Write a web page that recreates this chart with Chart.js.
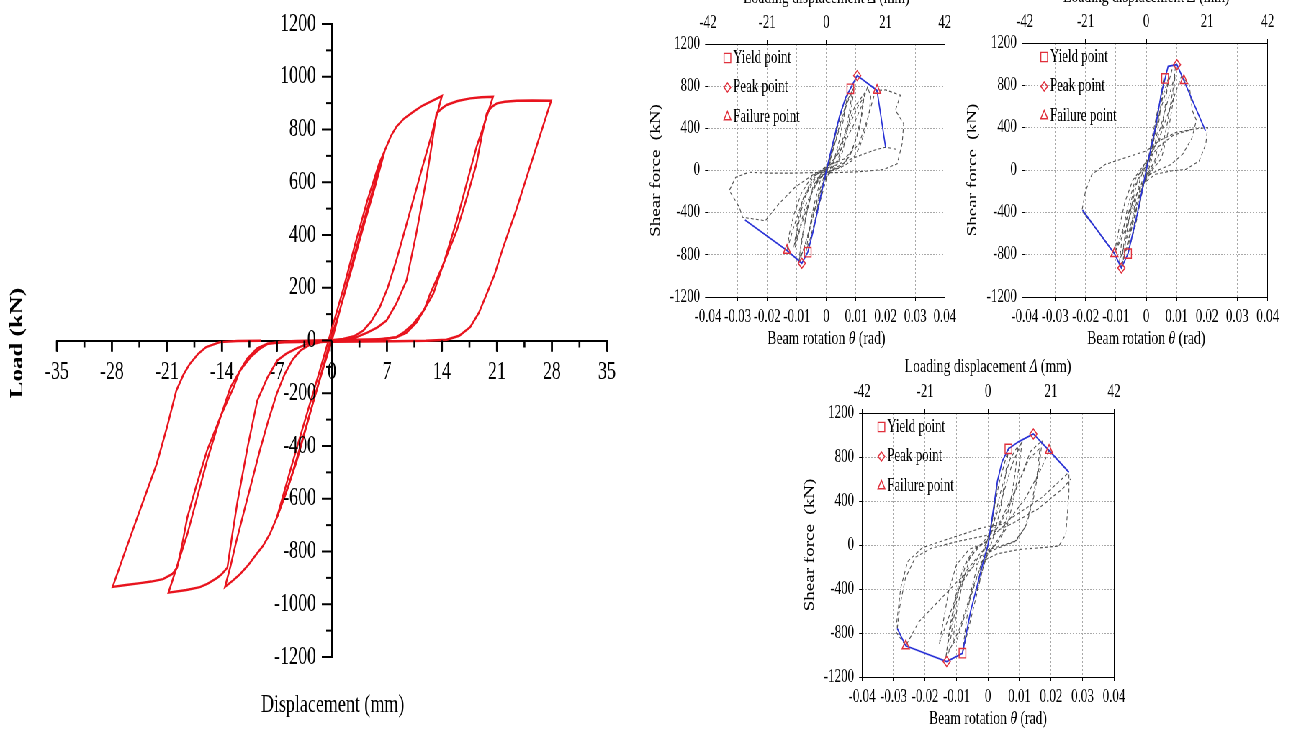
<!DOCTYPE html>
<html>
<head>
<meta charset="utf-8">
<script src="https://cdn.jsdelivr.net/npm/chart.js@4.4.1/dist/chart.umd.min.js"></script>
<style>
  html, body { margin: 0; padding: 0; background: #fff; overflow: hidden; }
  /* the whole sheet is drawn wide and squeezed horizontally, giving the narrow serif look */
  #sheet { position: absolute; left: 0; top: 0; width: 1790px; height: 732px;
           transform: scaleX(0.72); transform-origin: 0 0; }
  #sheet canvas { position: absolute; }
</style>
</head>
<body>
<div id="sheet">
  <canvas id="loadDisp" width="889" height="732" style="left:0;top:0;width:889px;height:732px"></canvas>
  <canvas id="sp1" width="444" height="350" style="left:889px;top:0;width:444px;height:350px"></canvas>
  <canvas id="sp2" width="457" height="350" style="left:1333px;top:0;width:457px;height:350px"></canvas>
  <canvas id="sp3" width="487" height="382" style="left:1083px;top:350px;width:487px;height:382px"></canvas>
</div>
<script>
// ---------- left plot: load vs displacement (mm, kN) ----------
const dispTicks = [-35, -28, -21, -14, -7, 0, 7, 14, 21, 28, 35];
const loadTicks = [-1200, -1000, -800, -600, -400, -200, 0, 200, 400, 600, 800, 1000, 1200];

const loop7 = [[0,0],[1.5,170],[3,340],[4.5,500],[6,650],[6.75,722],[5.5,585],[4,430],[2.5,270],[1,115],[0,20],
  [-1.5,-140],[-3,-300],[-4.5,-460],[-6,-590],[-7,-671],[-5.8,-545],[-4.5,-410],[-3,-260],[-1.5,-110],[0,45],
  [1.5,200],[3,370],[4.5,530],[6,670],[6.75,722]];
const loop14 = [[6.75,722],[7.5,775],[8.2,810],[9.2,842],[10.35,867],[11.5,890],[12.5,905],[14,927],
  [13.3,850],[12.5,760],[11.4,645],[10.35,532],[9.3,420],[8.2,304],[7.1,200],[6.1,127],[5,72],[4,38],[2.8,16],[1.44,6],[0,1],
  [-1,-95],[-2.5,-245],[-4,-400],[-5.5,-550],[-7,-671],[-7.9,-734],[-8.8,-780],[-9.6,-810],[-10.6,-850],[-11.7,-886],[-12.6,-910],[-13.6,-934],
  [-12.9,-855],[-12.2,-765],[-11.2,-650],[-10.2,-535],[-9.2,-420],[-8.1,-304],[-7,-200],[-6,-127],[-5,-72],[-4,-38],[-2.8,-16],[-1.44,-6],[0,-2]];
const loop21 = [[0,-2],[1.5,3],[3.14,13],[4.5,30],[5.8,50],[6.95,76],[8.2,140],[9.5,228],[10.7,400],[12,608],[12.7,740],[13.3,861],
  [14,880],[14.6,893],[16,908],[17.6,918],[19,922],[20.5,924],
  [19.5,830],[18.4,734],[17.1,590],[15.9,456],[14.4,310],[12.9,177],[11.6,110],[10.35,63],[9.2,32],[8.2,13],[6.5,5],[4.5,1],[2,-1],[0,-2],
  [-1.5,-4],[-3.14,-13],[-4.5,-30],[-5.8,-50],[-6.95,-76],[-8.2,-140],[-9.5,-228],[-10.7,-400],[-12,-608],[-12.7,-740],[-13.3,-861],
  [-14,-885],[-14.6,-900],[-15.8,-922],[-16.8,-935],[-18.5,-946],[-20.8,-956],
  [-19.7,-855],[-18.4,-734],[-17.1,-590],[-15.9,-456],[-14.4,-310],[-12.9,-177],[-11.6,-110],[-10.35,-63],[-9.2,-32],[-8.2,-13],
  [-6.5,-5],[-4.5,-2],[-2,0],[0,1],[3,3],[6,5]];
const loop28 = [[6,5],[8.2,12],[9.5,30],[10.8,70],[11.8,120],[12.5,177],[14.2,290],[15.9,418],[17.2,545],[18.4,671],[19.1,780],[19.7,861],
  [20.3,885],[21,899],[22,905],[23.5,909],[25.5,910],[27.9,909],
  [26.4,770],[24.9,630],[23.4,490],[21.8,354],[20.7,250],[19.7,177],[18.7,105],[17.6,51],[16.2,18],[14.6,3],[12,-1],[8,-3],[4,-4],[0,-5],[-4,-6],[-6,-7],
  [-8.2,-12],[-9.5,-30],[-10.8,-70],[-11.8,-120],[-12.5,-177],[-14.2,-290],[-15.9,-418],[-17.2,-545],[-18.4,-671],[-19.1,-780],[-19.7,-861],
  [-20.3,-885],[-21.5,-905],[-23,-914],[-24.4,-920],[-26.2,-927],[-27.9,-934],
  [-26.5,-815],[-25,-690],[-23.6,-575],[-22.3,-468],[-21,-330],[-19.8,-190],[-18.9,-130],[-18.1,-89],[-17,-50],[-16,-25],[-14.25,-6],[-12,-2],[-9,-1]];

// ---------- right plots: shear force vs beam rotation (rad, kN) ----------
const rotationTicks = [-0.04, -0.03, -0.02, -0.01, 0, 0.01, 0.02, 0.03, 0.04];
const loadingDispTicks = [-42, -21, 0, 21, 42];
const shearTicks = [-1200, -800, -400, 0, 400, 800, 1200];

const sp1Hysteresis = [[0,0],[0.002,230],[0.0035,420],[0.0025,250],[0.001,60],[-0.001,-120],[-0.0035,-420],[-0.0025,-260],[-0.001,-70],[0.001,100],
  [0.003,330],[0.0055,600],[0.0072,720],[0.006,520],[0.0045,300],[0.0025,90],[0,-80],[-0.0025,-330],[-0.0055,-650],[-0.0068,-760],[-0.0058,-560],[-0.0042,-330],[-0.002,-90],[0.001,80],
  [0.004,360],[0.007,640],[0.0094,794],[0.0085,600],[0.0072,400],[0.0055,180],[0.003,30],[0,-60],[-0.003,-280],[-0.006,-600],[-0.0094,-889],[-0.0085,-680],[-0.007,-440],[-0.005,-220],[-0.002,-40],[0.002,60],
  [0.006,330],[0.0095,600],[0.0128,730],[0.0122,560],[0.011,380],[0.0088,200],[0.006,70],[0.002,10],[-0.002,-60],[-0.005,-220],[-0.0085,-520],[-0.0106,-730],[-0.0098,-560],[-0.0083,-360],[-0.006,-160],[-0.003,-30],[0.001,40],
  [0.005,200],[0.009,420],[0.012,620],[0.0139,794],[0.015,698],[0.0145,560],[0.0133,400],[0.0112,220],[0.0085,90],[0.005,30],[0,-20],[-0.004,-90],[-0.008,-280],[-0.0113,-560],[-0.0133,-758],[-0.0125,-600],[-0.011,-420],[-0.0085,-220],[-0.005,-60],[0,40],
  [0.006,110],[0.011,250],[0.014,500],[0.016,700],[0.0171,760],[0.02,765],[0.025,714],[0.0233,571],[0.0261,444],[0.0256,254],[0.0239,64],[0.0194,10],[0.012,-10],[0.004,-20],[-0.004,-20],[-0.012,-25],[-0.02,-25],
  [-0.0261,-16],[-0.0306,-63],[-0.0328,-190],[-0.0294,-349],[-0.0283,-444],[-0.0206,-476],[-0.0161,-318],[-0.0106,-159],[-0.004,-30],[0.004,60],[0.012,150],[0.017,200],[0.02,220],[0.024,200]];
const sp1Repeat = [[0.001,60],[0.004,380],[0.0068,650],[0.0088,760],[0.0078,560],[0.0062,330],[0.004,110],[0.001,-20],[-0.002,-160],[-0.005,-480],
  [-0.0078,-760],[-0.009,-830],[-0.008,-620],[-0.0065,-380],[-0.0045,-150],[-0.0015,-10],[0.003,120],[0.007,380],[0.0105,600],[0.0125,690],
  [0.0118,520],[0.0102,320],[0.008,140],[0.005,40],[0.001,-10],[-0.003,-90],[-0.007,-330],[-0.0095,-600],[-0.0108,-700],[-0.0098,-500],[-0.0078,-260],[-0.0045,-60],[0,20]];
const sp1Skeleton = [[-0.0275,-470],[-0.0204,-615],[-0.0133,-758],[-0.0083,-880],[-0.0063,-775],[-0.0045,-580],[-0.0025,-320],[0,0],
  [0.0022,260],[0.0045,520],[0.0065,690],[0.0081,775],[0.0104,900],[0.0171,760],[0.02,220]];
const sp1Yield = [[0.0081,775],[-0.0063,-775]];
const sp1Peak = [[0.0104,900],[-0.0083,-880]];
const sp1Failure = [[0.0171,760],[-0.0133,-758]];

const sp2Hysteresis = [[0,0],[0.002,320],[0.004,600],[0.003,400],[0.0015,130],[-0.001,-150],[-0.003,-430],[-0.0045,-620],[-0.0035,-420],[-0.0018,-150],[0.001,130],
  [0.0035,480],[0.0058,875],[0.005,650],[0.0038,380],[0.002,120],[-0.001,-160],[-0.0035,-520],[-0.0062,-800],[-0.0052,-580],[-0.0038,-330],[-0.002,-80],[0.001,120],
  [0.004,500],[0.0069,780],[0.0085,950],[0.0097,1001],[0.0088,760],[0.0072,480],[0.0052,200],[0.002,20],[-0.001,-120],[-0.004,-450],[-0.0068,-760],[-0.0082,-925],[-0.0074,-700],[-0.006,-430],[-0.004,-170],[-0.001,30],
  [0.004,280],[0.008,600],[0.0115,880],[0.0141,812],[0.0152,559],[0.0165,470],[0.015,300],[0.012,150],[0.008,50],[0.004,0],[0,-60],[-0.003,-220],[-0.0065,-540],[-0.0105,-790],[-0.009,-560],[-0.007,-300],[-0.0045,-100],[-0.001,40],
  [0.004,220],[0.009,330],[0.0152,385],[0.0202,401],[0.0196,243],[0.0174,85],[0.013,6],[0.008,-10],[0.003,-40],[-0.002,-150],[-0.006,-420],[-0.0105,-790],[-0.0155,-590],[-0.0212,-388],
  [-0.02,-199],[-0.0179,-41],[-0.0134,54],[-0.0068,117],[0,180],[0.0042,275],[0.0097,354],[0.0152,385]];
const sp2Repeat = [[0.001,80],[0.0035,420],[0.0055,700],[0.0072,860],[0.0064,640],[0.005,360],[0.0028,90],[0,-60],[-0.003,-330],[-0.0055,-640],
  [-0.0075,-850],[-0.0066,-620],[-0.005,-360],[-0.003,-110],[0,40],[0.004,330],[0.0075,700],[0.0095,900],[0.0088,640],[0.0072,360],
  [0.005,110],[0.002,0],[-0.002,-180],[-0.0055,-560],[-0.0088,-860],[-0.0078,-600],[-0.006,-330],[-0.0035,-80],[0,50]];
const sp2Skeleton = [[-0.021,-380],[-0.0105,-790],[-0.0082,-925],[-0.006,-790],[-0.003,-420],[0,0],[0.003,400],[0.005,730],
  [0.0062,865],[0.0072,980],[0.0101,995],[0.0124,845],[0.0195,370]];
const sp2Yield = [[0.0062,865],[-0.006,-790]];
const sp2Peak = [[0.0101,995],[-0.0082,-925]];
const sp2Failure = [[0.0124,845],[-0.0105,-790]];

const sp3Hysteresis = [[0,0],[0.0015,270],[0.003,560],[0.002,330],[0.0005,60],[-0.0012,-170],[-0.0035,-420],[-0.0025,-240],[-0.001,-40],[0.001,170],
  [0.0035,560],[0.0065,874],[0.0055,620],[0.004,330],[0.0015,50],[-0.0015,-200],[-0.005,-620],[-0.0081,-984],[-0.007,-720],[-0.0055,-430],[-0.003,-150],[0,60],
  [0.004,380],[0.0075,720],[0.0109,950],[0.0098,700],[0.0082,420],[0.006,160],[0.003,20],[-0.001,-100],[-0.005,-400],[-0.009,-760],[-0.0124,-969],[-0.0112,-720],[-0.0094,-420],[-0.007,-170],[-0.003,-10],[0.001,60],
  [0.006,300],[0.01,580],[0.0135,850],[0.0172,950],[0.0162,700],[0.0145,430],[0.0122,180],[0.009,40],[0.004,-10],[-0.002,-60],[-0.007,-240],[-0.0105,-520],[-0.0134,-1030],[-0.0122,-760],[-0.0102,-460],[-0.0078,-200],[-0.0045,-40],[0,40],
  [0.006,200],[0.012,430],[0.017,700],[0.0194,859],[0.0257,661],[0.0257,463],[0.0252,280],[0.0247,97],[0.0225,-9],[0.0172,-24],[0.01,-40],[0.003,-80],[-0.004,-180],[-0.01,-340],[-0.016,-520],[-0.022,-700],[-0.0261,-917],
  [-0.0293,-786],[-0.0277,-390],[-0.0255,-150],[-0.0208,-24],[-0.0145,37],[-0.0081,97],[-0.0018,158],[0.0045,189],[0.0109,311],[0.0172,433],[0.0257,661]];
const sp3Repeat = [[0.001,100],[0.004,480],[0.007,780],[0.0095,900],[0.0086,640],[0.007,370],[0.0048,120],[0.002,0],[-0.002,-160],[-0.006,-520],
  [-0.0098,-860],[-0.0112,-900],[-0.0102,-640],[-0.0082,-360],[-0.0058,-120],[-0.002,10],[0.004,220],[0.009,520],[0.013,780],[0.0165,880],
  [0.0156,640],[0.014,400],[0.0118,160],[0.0085,30],[0.003,-30],[-0.003,-110],[-0.009,-380],[-0.013,-700],[-0.0155,-900],[-0.0142,-700],
  [-0.0125,-420],[-0.01,-180],[-0.006,-40],[0,30]];
const sp3Sweep = [[-0.0288,-760],[-0.028,-560],[-0.0262,-300],[-0.023,-110],[-0.018,-30],[-0.01,30],[0,90],[0.008,200],[0.016,330],[0.024,520],[0.0262,600]];
const sp3Skeleton = [[-0.0288,-760],[-0.0261,-917],[-0.0131,-1060],[-0.0081,-984],[-0.0055,-600],[-0.0035,-380],[-0.001,-100],[0,0],
  [0.0015,280],[0.003,580],[0.0045,760],[0.0065,874],[0.0098,940],[0.0144,1010],[0.0194,859],[0.0257,661]];
const sp3Yield = [[0.0065,874],[-0.0081,-984]];
const sp3Peak = [[0.0144,1010],[-0.0131,-1060]];
const sp3Failure = [[0.0194,859],[-0.0261,-917]];

// ---------- shared styling ----------
const SERIF = '"Liberation Serif", "Times New Roman", serif';
const RED = '#e8141e';
const BLUE = '#2a33d6';
const GREY = '#505050';
const MARK = '#e0303c';
const GRID = '#a8a8a8';

const pts = list => list.map(([x, y]) => ({ x, y }));
const fixTicks = list => scale => { scale.ticks = list.map(v => ({ value: v })); };

// Axis captions, drawn as text pieces so a symbol can be italic
function captions(items) {
  return {
    id: 'captions',
    afterDraw(chart) {
      const { ctx, chartArea: a } = chart;
      items.forEach(it => {
        const [x, y] = it.at(a);
        ctx.save();
        ctx.translate(x, y);
        if (it.rotate) ctx.rotate(it.rotate);
        ctx.fillStyle = '#000';
        ctx.textBaseline = 'middle';
        ctx.textAlign = 'left';
        const fontOf = p => `${p.italic ? 'italic ' : ''}${it.weight || 'normal'} ${it.size}px ${SERIF}`;
        let total = 0;
        it.parts.forEach(p => { ctx.font = fontOf(p); total += ctx.measureText(p.text).width; });
        let cx = -total / 2;
        it.parts.forEach(p => { ctx.font = fontOf(p); ctx.fillText(p.text, cx, 0); cx += ctx.measureText(p.text).width; });
        ctx.restore();
      });
    }
  };
}

// Tick marks (major and minor) and load labels for the axes crossing at the origin
const crossAxisMarks = {
  id: 'crossAxisMarks',
  afterDraw(chart) {
    const { ctx } = chart;
    const xs = chart.scales.x, ys = chart.scales.y;
    const x0 = xs.getPixelForValue(0), y0 = ys.getPixelForValue(0);
    ctx.save();
    ctx.strokeStyle = '#000';
    ctx.lineWidth = 2.6;
    for (let k = -10; k <= 10; k++) {
      const px = xs.getPixelForValue(k * 3.5);
      ctx.beginPath(); ctx.moveTo(px, y0); ctx.lineTo(px, y0 + (k % 2 === 0 ? 11 : 7)); ctx.stroke();
    }
    ctx.lineWidth = 2;
    for (let k = -12; k <= 12; k++) {
      const py = ys.getPixelForValue(k * 100);
      ctx.beginPath(); ctx.moveTo(x0, py); ctx.lineTo(x0 - (k % 2 === 0 ? 14 : 8), py); ctx.stroke();
    }
    ctx.fillStyle = '#000';
    ctx.font = `25px ${SERIF}`;
    ctx.textAlign = 'right';
    ctx.textBaseline = 'middle';
    loadTicks.forEach(v => ctx.fillText(String(v), x0 - 22, ys.getPixelForValue(v)));
    ctx.restore();
  }
};

// Key for the marker series, inside the top-left corner of the plot
function drawMark(ctx, style, x, y, r) {
  ctx.beginPath();
  if (style === 'rect') {
    const h = r * Math.SQRT1_2;
    ctx.rect(x - h, y - h, 2 * h, 2 * h);
  } else if (style === 'rectRot') {
    ctx.moveTo(x, y - r); ctx.lineTo(x + r, y); ctx.lineTo(x, y + r); ctx.lineTo(x - r, y); ctx.closePath();
  } else {
    const c = Math.cos(Math.PI / 6) * r, s = 0.5 * r;
    ctx.moveTo(x, y - r); ctx.lineTo(x + c, y + s); ctx.lineTo(x - c, y + s); ctx.closePath();
  }
  ctx.stroke();
}
const markerKey = {
  id: 'markerKey',
  afterDatasetsDraw(chart) {
    const { ctx, chartArea: a } = chart;
    let row = 0;
    chart.data.datasets.forEach(ds => {
      if (!ds.keyLabel) return;
      const y = a.top + 14 + row * 29.5;
      ctx.save();
      ctx.strokeStyle = ds.pointBorderColor;
      ctx.lineWidth = ds.pointBorderWidth;
      drawMark(ctx, ds.pointStyle, a.left + 27, y, ds.keyRadius);
      ctx.fillStyle = '#000';
      ctx.font = `18px ${SERIF}`;
      ctx.textBaseline = 'middle';
      ctx.textAlign = 'left';
      ctx.fillText(ds.keyLabel, a.left + 35, y);
      ctx.restore();
      row++;
    });
  }
};

// ---------- left chart ----------
new Chart(document.getElementById('loadDisp'), {
  type: 'scatter',
  data: {
    datasets: [loop7, loop14, loop21, loop28].map(loop => ({
      data: pts(loop), showLine: true, borderColor: RED, borderWidth: 2.4,
      pointRadius: 0, fill: false, tension: 0
    }))
  },
  options: {
    responsive: false, animation: false, devicePixelRatio: 1, events: [],
    layout: { padding: { left: 79, right: 46, top: 24, bottom: 75 } },
    plugins: { legend: { display: false }, tooltip: { enabled: false } },
    scales: {
      x: {
        type: 'linear', position: { y: 0 }, min: -35, max: 35,
        afterBuildTicks: fixTicks(dispTicks),
        ticks: { font: { family: SERIF, size: 25 }, color: '#000', padding: 7, maxRotation: 0, autoSkip: false,
                 callback: v => String(v) },
        grid: { drawOnChartArea: false, drawTicks: true, tickLength: 10, tickWidth: 2, tickColor: '#000' },
        border: { display: true, color: '#000', width: 2 }
      },
      y: {
        type: 'linear', position: { x: 0 }, min: -1200, max: 1200,
        afterBuildTicks: fixTicks(loadTicks),
        ticks: { display: false },
        grid: { drawOnChartArea: false, drawTicks: false },
        border: { display: true, color: '#000', width: 2.6 }
      }
    }
  },
  plugins: [crossAxisMarks, captions([
    { parts: [{ text: 'Displacement (mm)' }], size: 25, at: a => [462, 705] },
    { parts: [{ text: 'Load (kN)' }], size: 25, weight: 'bold', rotate: -Math.PI / 2, at: a => [25, 343] }
  ])]
});

// ---------- right charts ----------
const TICK_FONT = { family: SERIF, size: 18 };
function rotationPanel(canvasId, pad, loops, skeleton, yieldPts, peakPts, failurePts) {
  const mark = { showLine: false, pointBorderColor: MARK, pointBackgroundColor: 'rgba(0,0,0,0)', pointBorderWidth: 1.4 };
  return new Chart(document.getElementById(canvasId), {
    type: 'scatter',
    data: {
      datasets: [
        { ...mark, keyLabel: 'Yield point', data: pts(yieldPts), pointStyle: 'rect', pointRadius: 6.6, keyRadius: 6.6 },
        { ...mark, keyLabel: 'Peak point', data: pts(peakPts), pointStyle: 'rectRot', pointRadius: 5, keyRadius: 4.6 },
        { ...mark, keyLabel: 'Failure point', data: pts(failurePts), pointStyle: 'triangle', pointRadius: 5.8, keyRadius: 5.6 },
        { data: pts(skeleton), showLine: true, borderColor: BLUE, borderWidth: 1.7, pointRadius: 0, tension: 0 },
        ...loops.map(loop => ({ data: pts(loop), showLine: true, borderColor: GREY, borderWidth: 1.1,
                                borderDash: [4, 3], pointRadius: 0, tension: 0 }))
      ]
    },
    options: {
      responsive: false, animation: false, devicePixelRatio: 1, events: [],
      layout: { padding: pad },
      plugins: { legend: { display: false }, tooltip: { enabled: false } },
      scales: {
        x: {
          type: 'linear', position: 'bottom', min: -0.04, max: 0.04,
          afterBuildTicks: fixTicks(rotationTicks), afterFit: s => { s.height = 30; },
          ticks: { font: TICK_FONT, color: '#000', padding: 5, maxRotation: 0, autoSkip: false,
                   callback: v => (v === 0 ? '0' : v.toFixed(2)) },
          grid: { color: GRID, lineWidth: 1, drawTicks: true, tickLength: 4, tickColor: '#000', tickWidth: 1 },
          border: { display: true, color: '#000', width: 1, dash: [2, 2] }
        },
        x2: {
          type: 'linear', axis: 'x', position: 'top', min: -42, max: 42,
          afterBuildTicks: fixTicks(loadingDispTicks), afterFit: s => { s.height = 30; },
          ticks: { font: TICK_FONT, color: '#000', padding: 6, maxRotation: 0, autoSkip: false, callback: v => String(v) },
          grid: { drawOnChartArea: false, drawTicks: true, tickLength: 4, tickColor: '#000', tickWidth: 1 },
          border: { display: true, color: '#000', width: 1 }
        },
        y: {
          type: 'linear', position: 'left', min: -1200, max: 1200,
          afterBuildTicks: fixTicks(shearTicks), afterFit: s => { s.width = 60; },
          ticks: { font: TICK_FONT, color: '#000', padding: 7, autoSkip: false, callback: v => String(v) },
          grid: { color: GRID, lineWidth: 1, drawTicks: true, tickLength: 4, tickColor: '#000', tickWidth: 1 },
          border: { display: true, color: '#000', width: 1, dash: [2, 2] }
        },
        y2: {
          type: 'linear', axis: 'y', position: 'right', min: -1200, max: 1200,
          afterFit: s => { s.width = 0; },
          ticks: { display: false },
          grid: { display: false },
          border: { display: true, color: '#000', width: 1 }
        }
      }
    },
    plugins: [markerKey, captions([
      { parts: [{ text: 'Shear force  (kN)' }], size: 19, rotate: -Math.PI / 2,
        at: a => [a.left - 72, (a.top + a.bottom) / 2] },
      { parts: [{ text: 'Beam rotation ' }, { text: 'θ', italic: true }, { text: ' (rad)' }], size: 19,
        at: a => [(a.left + a.right) / 2, a.bottom + 42] },
      { parts: [{ text: 'Loading displacement ' }, { text: 'Δ', italic: true }, { text: ' (mm)' }], size: 19,
        at: a => [(a.left + a.right) / 2, a.top - 46] }
    ])]
  });
}

rotationPanel('sp1', { left: 34.3, right: 16.3, top: 14, bottom: 23 },
  [sp1Hysteresis, sp1Repeat], sp1Skeleton, sp1Yield, sp1Peak, sp1Failure);
rotationPanel('sp2', { left: 30.3, right: 29.2, top: 13, bottom: 23 },
  [sp2Hysteresis, sp2Repeat], sp2Skeleton, sp2Yield, sp2Peak, sp2Failure);
rotationPanel('sp3', { left: 54.2, right: 22.8, top: 33, bottom: 25 },
  [sp3Hysteresis, sp3Repeat, sp3Sweep], sp3Skeleton, sp3Yield, sp3Peak, sp3Failure);
</script>
</body>
</html>
